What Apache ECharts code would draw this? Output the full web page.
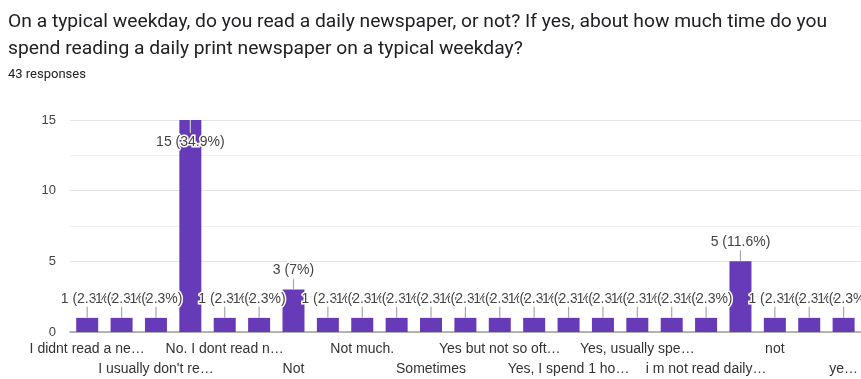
<!DOCTYPE html>
<html>
<head>
<meta charset="utf-8">
<script src="https://cdn.jsdelivr.net/npm/echarts@6/dist/echarts.min.js"></script>
<style>
  html, body { margin: 0; padding: 0; background: #fff; }
  #chart { width: 861px; height: 379px; }
</style>
</head>
<body>
<div id="chart"></div>
<script>
const titleLines = [
  "On a typical weekday, do you read a daily newspaper, or not? If yes, about how much time do you",
  "spend reading a daily print newspaper on a typical weekday?"
];
const subtitle = "43 responses";
const categories = [
  "I didnt read a ne…", "I don't read…", "I usually don't re…", "No",
  "No. I dont read n…", "Nope", "Not", "Not always",
  "Not much.", "Rarely", "Sometimes", "Yes",
  "Yes but not so oft…", "Yes, 30 minutes", "Yes, I spend 1 ho…", "Yes, about 30 mi…",
  "Yes, usually spe…", "Yes. 15 minutes", "i m not read daily…", "no",
  "not", "sometimes", "ye…"
];
const counts = [1, 1, 1, 15, 1, 1, 3, 1, 1, 1, 1, 1, 1, 1, 1, 1, 1, 1, 1, 5, 1, 1, 1];
const totalResponses = 43;
const yTicks = [0, 5, 10, 15];

const chart = echarts.init(document.getElementById('chart'), null, { renderer: 'canvas' });
const yMax = yTicks[yTicks.length - 1];
const chartFont = '"Liberation Sans", Arial, sans-serif';

function pctLabel(v) {
  const p = parseFloat((v / totalResponses * 100).toFixed(1));
  return v + ' (' + p + '%)';
}

const labelBase = { color: '#333', fontFamily: chartFont, fontSize: 14, lineHeight: 20 };

chart.setOption({
  animation: false,
  title: [
    {
      text: titleLines.join('\n'),
      left: 3, top: 4,
      textStyle: { fontFamily: 'Roboto', fontSize: 19.25, fontWeight: 'normal', color: '#202124', lineHeight: 27 }
    },
    {
      text: subtitle,
      left: 3, top: 63,
      textStyle: { fontFamily: 'Roboto', fontSize: 13, fontWeight: 'normal', color: '#202124' }
    }
  ],
  grid: { left: 70, right: 0, top: 120, bottom: 43, containLabel: false },
  xAxis: [
    {
      type: 'category',
      data: categories,
      position: 'bottom',
      axisLine: { lineStyle: { color: '#9e9e9e', width: 1.5 } },
      axisTick: { show: false },
      axisLabel: Object.assign({
        interval: function (idx) { return idx % 4 === 0; },
        margin: 7
      }, labelBase)
    },
    {
      type: 'category',
      data: categories,
      position: 'bottom',
      axisLine: { show: false },
      axisTick: { show: false },
      splitLine: { show: false },
      axisLabel: Object.assign({
        interval: function (idx) { return idx % 4 === 2; },
        margin: 27
      }, labelBase)
    }
  ],
  yAxis: {
    type: 'value',
    min: 0, max: yMax, interval: 5,
    axisLine: { show: false },
    axisTick: { show: false },
    axisLabel: { margin: 14, color: '#444', fontFamily: chartFont, fontSize: 13 },
    splitLine: { lineStyle: { color: '#e4e4e4' } },
    minorTick: { show: false, splitNumber: 2 },
    minorSplitLine: { show: true, lineStyle: { color: '#f1f1f1' } }
  },
  series: [
    {
      type: 'bar',
      xAxisIndex: 0,
      data: counts,
      barWidth: 22,
      itemStyle: { color: '#673ab7' },
      z: 2
    },
    {
      type: 'custom',
      xAxisIndex: 0,
      z: 5,
      clip: false,
      data: counts.map((v, i) => [i, v]),
      renderItem: function (params, api) {
        const i = api.value(0), v = api.value(1);
        const p = api.coord([i, v]);
        const inside = v >= yMax;
        const y1 = p[1];
        const y2 = inside ? p[1] + 13 : p[1] - 11;
        const ty = inside ? p[1] + 22 : p[1] - 19;
        return {
          type: 'group',
          children: [
            {
              type: 'line',
              shape: { x1: p[0], y1: y1, x2: p[0], y2: y2 },
              style: { stroke: inside ? '#c9c9c9' : '#a8a8a8', lineWidth: 1.2 }
            },
            {
              type: 'text',
              x: p[0], y: ty,
              style: {
                text: pctLabel(v),
                fill: '#444',
                font: '14px "Liberation Sans", Arial, sans-serif',
                align: 'center',
                verticalAlign: 'middle',
                stroke: '#fff',
                lineWidth: 3
              }
            }
          ]
        };
      }
    }
  ]
});
</script>
</body>
</html>
